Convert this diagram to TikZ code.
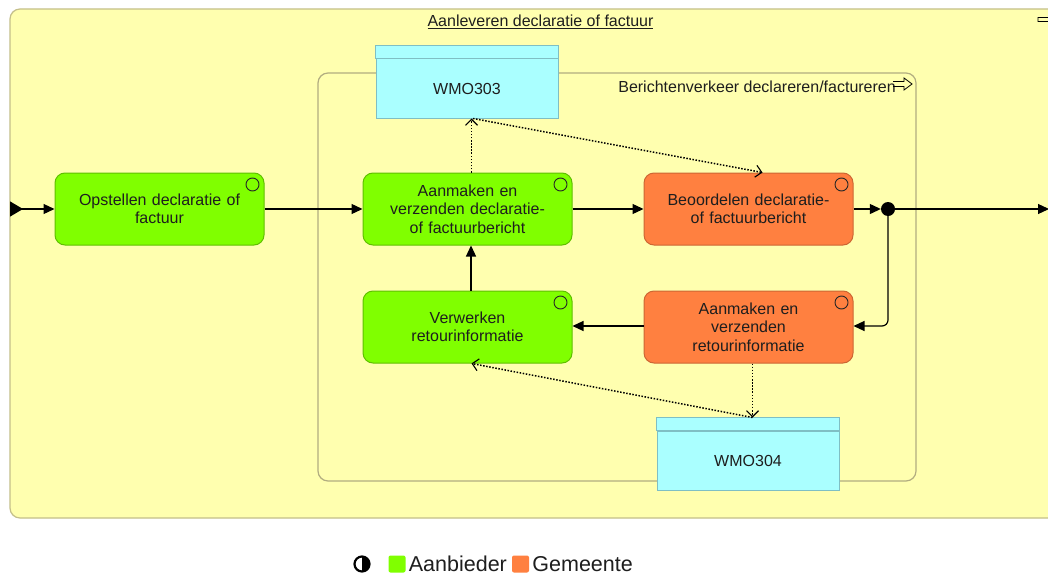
\documentclass[tikz,border=0pt]{standalone}
\usepackage{fontspec}
\setmainfont{Liberation Sans}
\usetikzlibrary{arrows.meta}
\definecolor{ylw}{HTML}{FFFFAF}
\definecolor{outerb}{HTML}{C4BF8A}
\definecolor{innerb}{HTML}{B2AD80}
\definecolor{greenf}{HTML}{80FF00}
\definecolor{greenb}{HTML}{5FBF00}
\definecolor{orangef}{HTML}{FF8040}
\definecolor{orangeb}{HTML}{CC6633}
\definecolor{cyanf}{HTML}{AAFFFF}
\definecolor{cyanb}{HTML}{7FBFC4}
\definecolor{txt}{HTML}{1E1E1E}
\begin{document}
\begin{tikzpicture}[x=1pt,y=-1pt,
  proc/.style={draw=greenb, fill=greenf, rounded corners=10pt, minimum width=209pt,
    minimum height=72pt, text width=195pt, align=center, inner sep=0pt,
    font=\fontsize{16}{18.5}\selectfont, line width=1pt, text=txt},
  gproc/.style={proc},
  oproc/.style={proc, draw=orangeb, fill=orangef},
  datab/.style={draw=cyanb, fill=cyanf, line width=1pt, minimum width=182pt,
    minimum height=59pt, inner sep=0pt, font=\fontsize{16}{18.5}\selectfont, text=txt},
  flow/.style={line width=1.2pt, -{Triangle[length=11pt,width=10pt]}},
  acc/.style={line width=1.5pt, dash pattern=on 1.5pt off 1.6pt, -{Straight Barb[length=6pt,width=12pt,line width=1.1pt]}},
  lbl/.style={inner sep=0pt, text=txt, font=\fontsize{16}{18.5}\selectfont},
  lsq/.style={inner sep=0pt, minimum size=17pt, rounded corners=2pt}
]
\useasboundingbox (0,0) rectangle (1048,575);
\clip (0,0) rectangle (1048,575);
\fill[white] (0,0) rectangle (1048,575);

% outer group
\draw[outerb, fill=ylw, line width=1.2pt, rounded corners=10pt] (10,9) rectangle (1075,518);
\node[lbl] (title) at (540.5,22) {\underline{Aanleveren declaratie of factuur}};
\draw[black, line width=0.9pt, fill=ylw] (1038,17.5) -- (1052,17.5) -- (1052,14) -- (1060,19.5) -- (1052,25) -- (1052,21.5) -- (1038,21.5) -- cycle;

% inner group
\draw[innerb, fill=ylw, line width=1.2pt, rounded corners=10pt] (318,73) rectangle (916,481);
\node[lbl, anchor=east] (glabel) at (896,87) {Berichtenverkeer declareren/factureren};
\draw[black, line width=0.8pt] (893,81.5) -- (904,81.5) -- (904,78) -- (912,84) -- (904,90) -- (904,86.5) -- (893,86.5);

% processes
\node[gproc] (opst) at (159.5,209) {Opstellen declaratie of\\factuur};
\node[gproc] (adecl) at (467.5,209) {Aanmaken en\\verzenden declaratie-\\of factuurbericht};
\node[oproc] (beo) at (748.5,209) {Beoordelen declaratie-\\of factuurbericht};
\node[gproc] (verw) at (467.5,327) {Verwerken\\retourinformatie};
\node[oproc] (aret) at (748.5,327) {Aanmaken en\\verzenden\\retourinformatie};
\foreach \n in {opst,adecl,beo,verw,aret}
  \draw[black!85, line width=0.9pt] ([shift={(-12,12)}]\n.north east) circle (6.5);

% data objects
\node[datab] (wmo303) at (467,88.5) {WMO303};
\draw[cyanb, fill=cyanf, line width=1pt] (wmo303.north west) rectangle ([shift={(0,-13)}]wmo303.north east);
\node[datab] (wmo304) at (748,460.5) {WMO304};
\draw[cyanb, fill=cyanf, line width=1pt] (wmo304.north west) rectangle ([shift={(0,-13)}]wmo304.north east);

% junction
\node[circle, fill=black, inner sep=0pt, minimum size=14pt] (junc) at (888,209) {};
\coordinate (leftend) at (10,209);
\coordinate (rightend) at (1049,209);

% flows
\draw[line width=1.2pt, {Triangle[reversed,length=13pt,width=15pt]}-{Triangle[length=11pt,width=10pt]}] (leftend) -- (opst.west);
\draw[flow] (opst.east) -- (adecl.west);
\draw[flow] (adecl.east) -- (beo.west);
\draw[flow] (beo.east) -- (junc.west);
\draw[flow] (junc.east) -- (rightend);
\draw[flow, rounded corners=6pt] (junc.south) |- ([shift={(0,-1)}]aret.east);
\draw[flow] ([shift={(0,-1)}]aret.west) -- ([shift={(0,-1)}]verw.east);
\draw[flow] ([shift={(3.5,0)}]verw.north) -- ([shift={(3.5,0)}]adecl.south);

% access relations
\draw[acc] ([shift={(4,0)}]adecl.north) -- ([shift={(4.5,0)}]wmo303.south);
\draw[acc] ([shift={(6,0)}]wmo303.south) -- ([shift={(14,0)}]beo.north);
\draw[acc] ([shift={(4,0)}]aret.south) -- ([shift={(4.5,-13)}]wmo304.north);
\draw[acc] ([shift={(4.5,-13)}]wmo304.north) -- ([shift={(4,0)}]verw.south);

% legend
\begin{scope}
  \clip (362,553) rectangle (374,575);
  \fill[black] (362,564) circle (7.5);
\end{scope}
\draw[black, line width=2.2pt] (362,564) circle (7.5);
\node[lsq, fill=greenf] (lg1) at (397,564) {};
\node[lbl, anchor=west, font=\fontsize{21.5}{24}\selectfont] (lt1) at ([shift={(3,0)}]lg1.east) {Aanbieder};
\node[lsq, fill=orangef] (lg2) at (520.5,564) {};
\node[lbl, anchor=west, font=\fontsize{21.5}{24}\selectfont] (lt2) at ([shift={(3,0)}]lg2.east) {Gemeente};
\end{tikzpicture}
\end{document}
